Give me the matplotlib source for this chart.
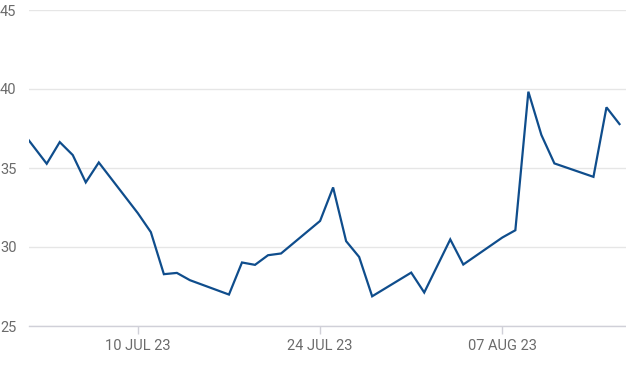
import matplotlib
matplotlib.use("Agg")
import matplotlib.pyplot as plt
import matplotlib.dates as mdates
import numpy as np
import pandas as pd

# daily values (weekdays only)
dates = pd.to_datetime([
    "2023-06-30", "2023-07-03", "2023-07-04", "2023-07-05", "2023-07-06", "2023-07-07",
    "2023-07-10", "2023-07-11", "2023-07-12", "2023-07-13", "2023-07-14",
    "2023-07-17", "2023-07-18", "2023-07-19", "2023-07-20", "2023-07-21",
    "2023-07-24", "2023-07-25", "2023-07-26", "2023-07-27", "2023-07-28",
    "2023-07-31", "2023-08-01", "2023-08-02", "2023-08-03", "2023-08-04",
    "2023-08-07", "2023-08-08", "2023-08-09", "2023-08-10", "2023-08-11",
    "2023-08-14", "2023-08-15", "2023-08-16",
])
values = [
    38.5, 35.27, 36.64, 35.82, 34.09, 35.35,
    32.14, 30.94, 28.28, 28.36, 27.90,
    26.99, 29.02, 28.87, 29.48, 29.59,
    31.65, 33.77, 30.37, 29.37, 26.88,
    28.38, 27.12, 28.8, 30.48, 28.89,
    30.6, 31.06, 39.83, 37.09, 35.29,
    34.44, 38.84, 37.78,
]
tick_dates = pd.to_datetime(["2023-07-10", "2023-07-24", "2023-08-07"])
tick_labels = ["10 JUL 23", "24 JUL 23", "07 AUG 23"]
y_ticks = [25, 30, 35, 40, 45]

plt.rcParams['font.family'] = ['Roboto', 'DejaVu Sans']

fig = plt.figure(figsize=(6.26, 3.75), dpi=100)
ax = fig.add_axes([29/626, 49/375, 597/626, 316/375])

ax.plot(dates, values, color="#0f4d8c", lw=1.6, solid_joinstyle="miter", clip_on=True)

ax.set_ylim(25, 45)
ax.set_xlim(pd.Timestamp("2023-07-01 15:20"), pd.Timestamp("2023-08-16 12:00"))
ax.set_yticks(y_ticks)
ax.set_xticks(tick_dates)
ax.set_xticklabels(tick_labels)

ax.grid(axis="y", color="#e6e6e6", lw=1)
ax.set_axisbelow(True)
for s in ["top", "right", "left"]:
    ax.spines[s].set_visible(False)
ax.spines["bottom"].set_color("#d0d0d8")
ax.spines["bottom"].set_linewidth(1)

ax.tick_params(axis="y", length=0, pad=9, labelsize=10.5, labelcolor="#6b6b6b")
ax.tick_params(axis="x", length=6, color="#d0d0d8", width=1, pad=3,
               labelsize=10.5, labelcolor="#6b6b6b")

fig.savefig("out.png", dpi=100)
